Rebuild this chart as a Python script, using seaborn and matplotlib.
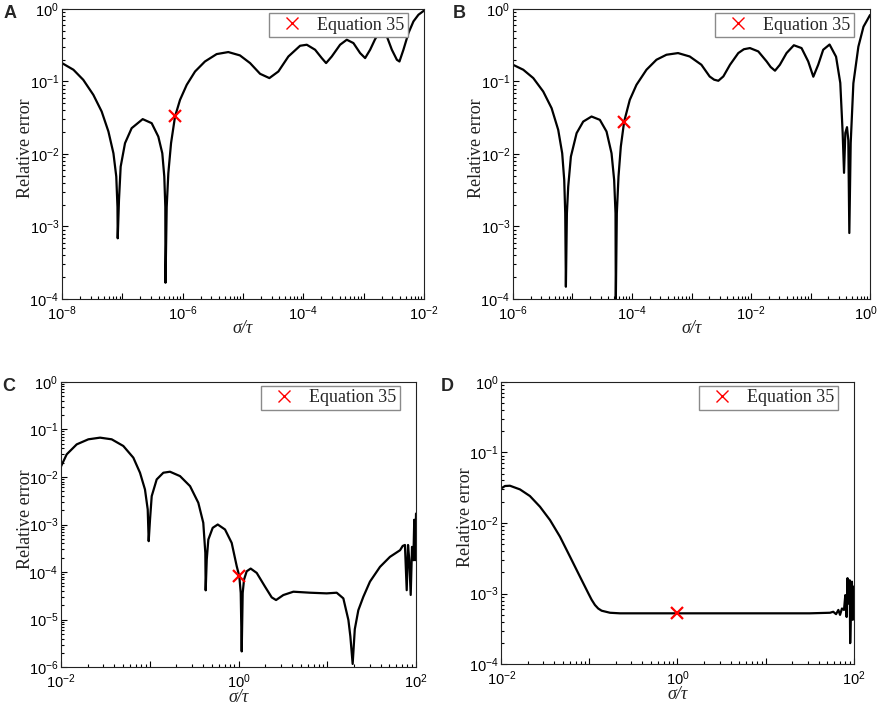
import numpy as np
import matplotlib
matplotlib.use("Agg")
import matplotlib.pyplot as plt
import matplotlib.ticker as mticker
import matplotlib.transforms as mtransforms
import seaborn as sns
import pandas as pd

# values, kept as log10(sigma/tau) and log10(relative error)
a_logx = [-8.0, -7.81, -7.647, -7.48, -7.342, -7.23, -7.147, -7.1, -7.08, -7.076,
          -7.055, -7.027, -6.955, -6.845, -6.662, -6.513, -6.403, -6.337, -6.304, -6.287,
          -6.284, -6.264, -6.237, -6.192, -6.126, -6.043, -5.932, -5.794, -5.63, -5.436,
          -5.243, -5.05, -4.882, -4.716, -4.562, -4.413, -4.247, -4.053, -3.942, -3.804,
          -3.694, -3.622, -3.528, -3.39, -3.279, -3.169, -3.058, -2.975, -2.892, -2.809,
          -2.726, -2.615, -2.532, -2.449, -2.406, -2.34, -2.257, -2.174, -2.091, -2.0]
a_logy = [-0.746, -0.838, -0.977, -1.184, -1.414, -1.69, -1.99, -2.31, -2.73, -3.163,
          -2.634, -2.174, -1.851, -1.644, -1.519, -1.575, -1.76, -1.99, -2.31, -2.73,
          -3.776, -2.73, -2.265, -1.851, -1.483, -1.253, -1.046, -0.862, -0.724, -0.622,
          -0.594, -0.640, -0.746, -0.894, -0.953, -0.862, -0.655, -0.507, -0.493, -0.562,
          -0.677, -0.746, -0.655, -0.493, -0.424, -0.470, -0.608, -0.677, -0.562, -0.415,
          -0.309, -0.378, -0.562, -0.700, -0.724, -0.562, -0.332, -0.171, -0.079, -0.023]

b_logx = [-6.0, -5.827, -5.659, -5.492, -5.351, -5.24, -5.173, -5.139, -5.122, -5.111,
          -5.094, -5.072, -5.027, -4.931, -4.82, -4.68, -4.54, -4.428, -4.344, -4.3,
          -4.277, -4.272, -4.255, -4.227, -4.188, -4.132, -4.037, -3.925, -3.757, -3.589,
          -3.421, -3.226, -3.03, -2.834, -2.695, -2.62, -2.549, -2.465, -2.353, -2.214,
          -2.12, -2.018, -1.878, -1.738, -1.67, -1.597, -1.515, -1.403, -1.28, -1.151,
          -1.039, -0.953, -0.871, -0.787, -0.68, -0.571, -0.50, -0.46, -0.437, -0.415,
          -0.387, -0.365, -0.348, -0.325, -0.28, -0.196, -0.11, 0.0]
b_logy = [-0.769, -0.838, -0.953, -1.138, -1.368, -1.667, -1.99, -2.358, -2.818, -3.831,
          -2.818, -2.45, -2.036, -1.713, -1.553, -1.483, -1.529, -1.69, -1.99, -2.358,
          -2.818, -4.015, -2.818, -2.312, -1.898, -1.553, -1.253, -1.046, -0.838, -0.700,
          -0.631, -0.608, -0.655, -0.769, -0.931, -0.975, -0.990, -0.930, -0.769, -0.608,
          -0.555, -0.539, -0.585, -0.723, -0.800, -0.851, -0.769, -0.608, -0.500, -0.539,
          -0.723, -0.934, -0.769, -0.562, -0.490, -0.658, -1.02, -1.71, -2.26, -1.71,
          -1.63, -1.81, -3.09, -1.85, -1.025, -0.52, -0.244, -0.083]

c_logx = [-2.0, -1.936, -1.823, -1.692, -1.56, -1.429, -1.298, -1.185, -1.11, -1.054,
          -1.023, -1.012, -0.997, -0.978, -0.922, -0.847, -0.772, -0.659, -0.546, -0.453,
          -0.397, -0.374, -0.37, -0.358, -0.34, -0.291, -0.234, -0.152, -0.077, -0.02,
          0.009, 0.025, 0.036, 0.047, 0.062, 0.092, 0.137, 0.205, 0.299, 0.374,
          0.423, 0.505, 0.618, 0.806, 0.993, 1.106, 1.181, 1.238, 1.26, 1.286,
          1.31, 1.35, 1.406, 1.481, 1.594, 1.706, 1.82, 1.85, 1.875, 1.895,
          1.91, 1.924, 1.94, 1.955, 1.97, 1.98, 1.99, 2.0]
c_logy = [-1.78, -1.526, -1.316, -1.21, -1.175, -1.21, -1.35, -1.596, -1.912, -2.263,
          -2.684, -3.35, -2.895, -2.404, -2.053, -1.912, -1.891, -1.983, -2.194, -2.543,
          -2.964, -3.596, -4.383, -3.737, -3.316, -3.07, -3.0, -3.105, -3.386, -3.878,
          -4.088, -4.438, -5.667, -4.438, -4.158, -3.983, -3.926, -4.017, -4.307, -4.531,
          -4.587, -4.482, -4.412, -4.433, -4.447, -4.433, -4.552, -5.007, -5.35, -5.93,
          -5.2, -4.8, -4.52, -4.2, -3.89, -3.68, -3.54, -3.45, -3.43, -4.38,
          -3.43, -3.75, -4.48, -3.47, -3.75, -2.9, -3.75, -2.77]

d_logx = [-2.0, -1.958, -1.902, -1.788, -1.675, -1.561, -1.447, -1.334, -1.22, -1.107,
          -1.012, -0.975, -0.937, -0.9, -0.861, -0.766, -0.653, -0.3, 0.5, 1.0,
          1.5, 1.731, 1.768, 1.80, 1.826, 1.845, 1.867, 1.89, 1.905, 1.92,
          1.93, 1.94, 1.955, 1.96, 1.973, 1.98, 1.99, 2.0]
d_logy = [-1.509, -1.476, -1.472, -1.524, -1.618, -1.769, -1.958, -2.193, -2.476, -2.759,
          -2.995, -3.085, -3.160, -3.21, -3.241, -3.270, -3.278, -3.278, -3.278, -3.278,
          -3.278, -3.27, -3.256, -3.29, -3.23, -3.30, -3.21, -3.23, -3.02, -3.33,
          -2.78, -3.14, -2.81, -3.70, -2.97, -2.83, -3.37, -2.90]

# "Equation 35" points (sigma/tau, relative error)
eq35_a = (7.5e-7, 0.033)
eq35_b = (7.4e-5, 0.028)
eq35_c = (1.0, 8.2e-5)
eq35_d = (1.0, 5.3e-4)

panels = [
    # letter, logx, logy, eq35, xlim exponents, ylim exponents, axes rect, xlabel y
    ("A", a_logx, a_logy, eq35_a, (-8, -2), (-4, 0), [0.0705, 0.5747, 0.4118, 0.4125], -0.072),
    ("B", b_logx, b_logy, eq35_b, (-6, 0), (-4, 0), [0.5836, 0.5747, 0.4062, 0.4125], -0.072),
    ("C", c_logx, c_logy, eq35_c, (-2, 2), (-6, 0), [0.0694, 0.0508, 0.4039, 0.4062], -0.077),
    ("D", d_logx, d_logy, eq35_d, (-2, 2), (-4, 0), [0.5703, 0.0550, 0.4009, 0.4020], -0.077),
]

sns.set_style("ticks")
plt.rcParams['font.family'] = ['Liberation Sans', 'DejaVu Sans']
plt.rcParams['mathtext.fontset'] = 'custom'
plt.rcParams['mathtext.rm'] = 'Liberation Sans'
plt.rcParams['mathtext.it'] = 'Liberation Sans:italic'
plt.rcParams['axes.unicode_minus'] = False

serif = ['Liberation Serif', 'DejaVu Serif']


def dec_formatter(step):
    def fmt(v, pos):
        e = int(round(np.log10(v)))
        if e % step != 0:
            return ''
        return r'$\mathregular{10^{%d}}$' % e
    return mticker.FuncFormatter(fmt)


fig = plt.figure(figsize=(8.79, 7.03), dpi=100)

for letter, lx, ly, eq, xl, yl, rect, xlab_y in panels:
    ax = fig.add_axes(rect)
    df = pd.DataFrame({'x': 10 ** np.array(lx), 'y': 10 ** np.array(ly)})
    sns.lineplot(data=df, x='x', y='y', ax=ax, color='black', linewidth=1.6,
                 estimator=None, sort=False)
    ax.plot([eq[0]], [eq[1]], linestyle='none', marker='x', color='red',
            markersize=8.5, markeredgewidth=1.6, label='Equation 35')

    ax.set_xscale('log')
    ax.set_yscale('log')
    ax.set_xlim(10.0 ** xl[0], 10.0 ** xl[1])
    ax.set_ylim(10.0 ** yl[0], 10.0 ** yl[1])

    ax.xaxis.set_major_locator(mticker.FixedLocator([10.0 ** e for e in range(xl[0], xl[1] + 1)]))
    ax.yaxis.set_major_locator(mticker.FixedLocator([10.0 ** e for e in range(yl[0], yl[1] + 1)]))
    ax.xaxis.set_minor_locator(mticker.LogLocator(base=10, subs=np.arange(2, 10), numticks=100))
    ax.yaxis.set_minor_locator(mticker.LogLocator(base=10, subs=np.arange(2, 10), numticks=100))
    ax.xaxis.set_major_formatter(dec_formatter(2))
    ax.yaxis.set_major_formatter(dec_formatter(1))
    ax.xaxis.set_minor_formatter(mticker.NullFormatter())
    ax.yaxis.set_minor_formatter(mticker.NullFormatter())

    ax.tick_params(which='both', direction='in', top=False, right=False, colors='black',
                   labelsize=10.5)
    ax.tick_params(which='major', length=4.3, width=0.8)
    ax.tick_params(which='minor', length=2.2, width=0.8)
    ax.tick_params(axis='x', pad=4)
    ax.tick_params(axis='y', pad=2)
    for s in ax.spines.values():
        s.set_linewidth(0.8)
        s.set_color('#222222')

    # last x label of B sits at the figure edge, nudge it left a bit
    if letter == 'B':
        last = ax.xaxis.get_major_ticks()[-1].label1
        last.set_transform(last.get_transform() +
                           mtransforms.ScaledTranslation(-4 / 100, 0, fig.dpi_scale_trans))

    ax.set_ylabel('Relative error', fontsize=13, family=serif, color='#222222')
    ax.yaxis.set_label_coords(-0.077, 0.52)
    ax.set_xlabel('σ/τ', fontsize=13, family=serif, style='italic', color='#222222')
    ax.xaxis.set_label_coords(0.5, xlab_y)

    leg = ax.legend(loc='upper right', bbox_to_anchor=(0.955, 0.986), borderaxespad=0,
                    frameon=True, fancybox=False, shadow=False, framealpha=1,
                    handlelength=2.15, handletextpad=0.32, borderpad=0.2,
                    prop={'family': serif, 'size': 13})
    leg.get_frame().set_edgecolor('#8a8a8a')
    leg.get_frame().set_linewidth(1.0)
    leg.legend_handles[0].set_markeredgewidth(1.0)

    fig.text(rect[0] - 0.0665 if letter in 'AC' else rect[0] - 0.069, rect[1] + rect[3] + 0.005,
             letter, ha='left', va='top', fontsize=13, fontweight='bold', family='Liberation Sans')

fig.savefig('out.png', dpi=100)
